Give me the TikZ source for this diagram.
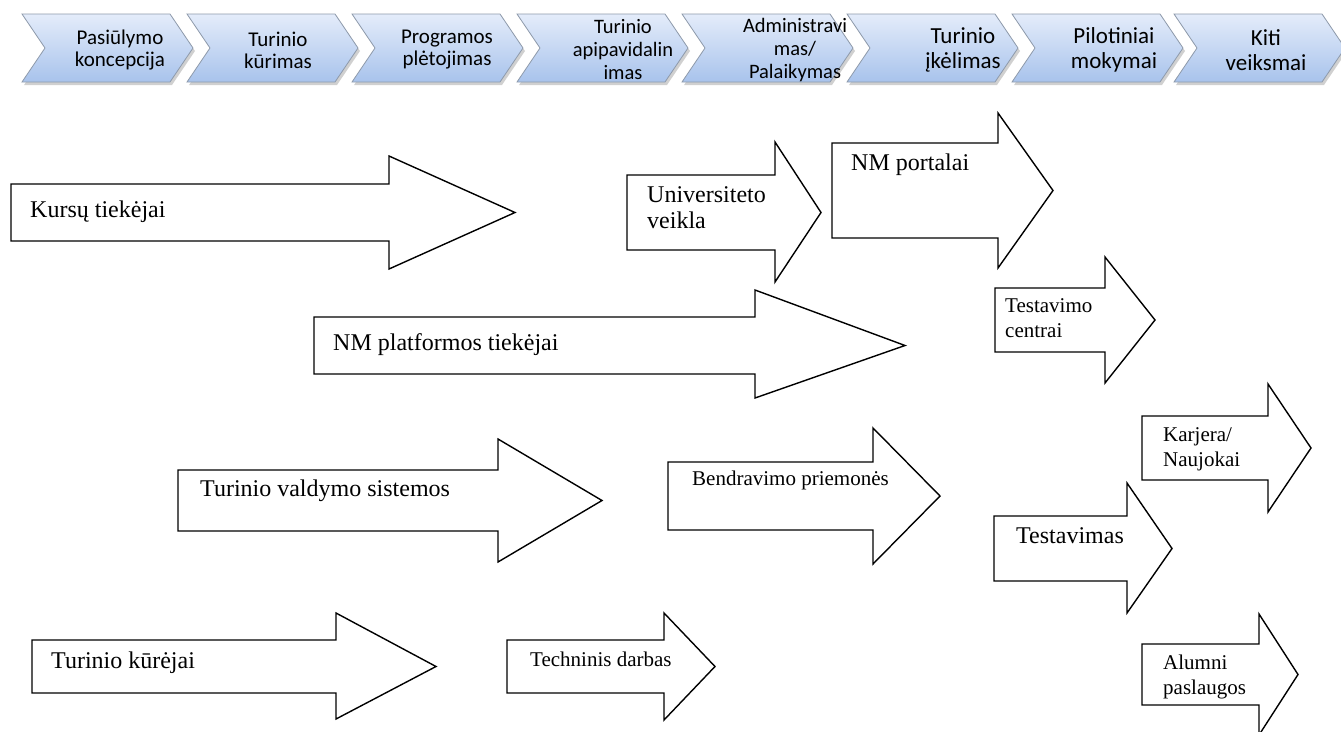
\documentclass[tikz,border=0pt]{standalone}
\usepackage{fontspec}
\setmainfont{Liberation Serif}
\newfontfamily\chevfont{Carlito}
\usetikzlibrary{shadows}
\definecolor{chevtop}{HTML}{E4ECFA}
\definecolor{chevbot}{HTML}{A8C3EC}
\definecolor{chevborder}{HTML}{8E9AAB}
\newcommand\tl[1]{\begin{tabular}[t]{@{}l@{}}#1\end{tabular}}
% block arrow: left, shaft top, shaft bottom, head base, head top, head bottom, tip x
\newcommand\barrow[7]{\draw[blockarrow] (#1,#2) -- (#4,#2) -- (#4,#5) -- (#7,{(#2+#3)/2}) -- (#4,#6) -- (#4,#3) -- (#1,#3) -- cycle;}
% chevron: left x
\newcommand\chevron[1]{\path[chevbox] (#1,14) -- ({#1+148},14) -- ({#1+171},48) -- ({#1+148},82) -- (#1,82) -- ({#1+23},48) -- cycle;}
\begin{document}
\begin{tikzpicture}[x=1pt,y=-1pt,
  blockarrow/.style={draw=black, line width=1.4pt, fill=white, line join=miter},
  chevbox/.style={draw=chevborder, line width=0.8pt, top color=chevtop, bottom color=chevbot,
    drop shadow={opacity=0.3, shadow xshift=2pt, shadow yshift=-3pt, fill=black!60}},
  chevtxt/.style={align=center, inner sep=0pt, font=\chevfont\fontsize{21}{22}\selectfont},
  chevtxtb/.style={align=center, inner sep=0pt, font=\chevfont\fontsize{20.5}{23}\selectfont},
  chevtxtc/.style={align=center, inner sep=0pt, font=\chevfont\fontsize{23}{25}\selectfont},
  bigtxt/.style={anchor=base west, inner sep=0pt, font=\fontsize{24}{26}\selectfont},
  smalltxt/.style={anchor=base west, inner sep=0pt, font=\fontsize{21}{25}\selectfont}]
\useasboundingbox (0,0) rectangle (1341,731);
\fill[white] (0,0) rectangle (1341,731);
% top process bar
\foreach \L in {22,187,352,517,682,847,1012,1174} {\chevron{\L}}
\node[chevtxt] (c1) at (120,50) {Pasiūlymo\\koncepcija};
\node[chevtxt] (c2) at (278,50) {Turinio\\kūrimas};
\node[chevtxt] (c3) at (447,50) {Programos\\plėtojimas};
\node[chevtxtb] (c4) at (623,50) {Turinio\\apipavidalin\\imas};
\node[chevtxtb] (c5) at (795,50) {Administravi\\mas/\\Palaikymas};
\node[chevtxtc] (c6) at (963,50) {Turinio\\įkėlimas};
\node[chevtxtc] (c7) at (1114,50) {Pilotiniai\\mokymai};
\node[chevtxtc] (c8) at (1266,50) {Kiti\\veiksmai};
% block arrows
\barrow{11}{184}{241}{389}{156}{269}{515}
\barrow{627}{175}{250}{775}{142}{282}{821}
\barrow{832}{143}{238}{998}{113}{268}{1053}
\barrow{314}{317}{374}{755}{290}{398}{905}
\barrow{995}{288}{352}{1105}{257}{383}{1155}
\barrow{178}{470}{531}{498}{439}{562}{602}
\barrow{668}{462}{530}{873}{428}{564}{940}
\barrow{1142}{416}{480}{1268}{384}{512}{1311}
\barrow{994}{516}{581}{1127}{483}{613}{1172}
\barrow{32}{640}{693}{336}{613}{719}{436}
\barrow{507}{640}{693}{664}{613}{720}{715}
\barrow{1142}{644}{705}{1259}{614}{735}{1298}
% labels
\node[bigtxt] (t1) at (30,217) {Kursų tiekėjai};
\node[bigtxt] (t2) at (647,202) {\tl{Universiteto\\veikla}};
\node[bigtxt] (t3) at (851,170) {NM portalai};
\node[bigtxt] (t4) at (333,350) {NM platformos tiekėjai};
\node[smalltxt] (t5) at (1005,312) {\tl{Testavimo\\centrai}};
\node[bigtxt] (t6) at (200,496) {Turinio valdymo sistemos};
\node[smalltxt] (t7) at (692,485) {Bendravimo priemonės};
\node[smalltxt] (t8) at (1163,441) {\tl{Karjera/\\Naujokai}};
\node[bigtxt] (t9) at (1016,543) {Testavimas};
\node[bigtxt] (t10) at (51,668) {Turinio kūrėjai};
\node[smalltxt] (t11) at (530,666) {Techninis darbas};
\node[smalltxt] (t12) at (1163,669) {\tl{Alumni\\paslaugos}};
\end{tikzpicture}
\end{document}
